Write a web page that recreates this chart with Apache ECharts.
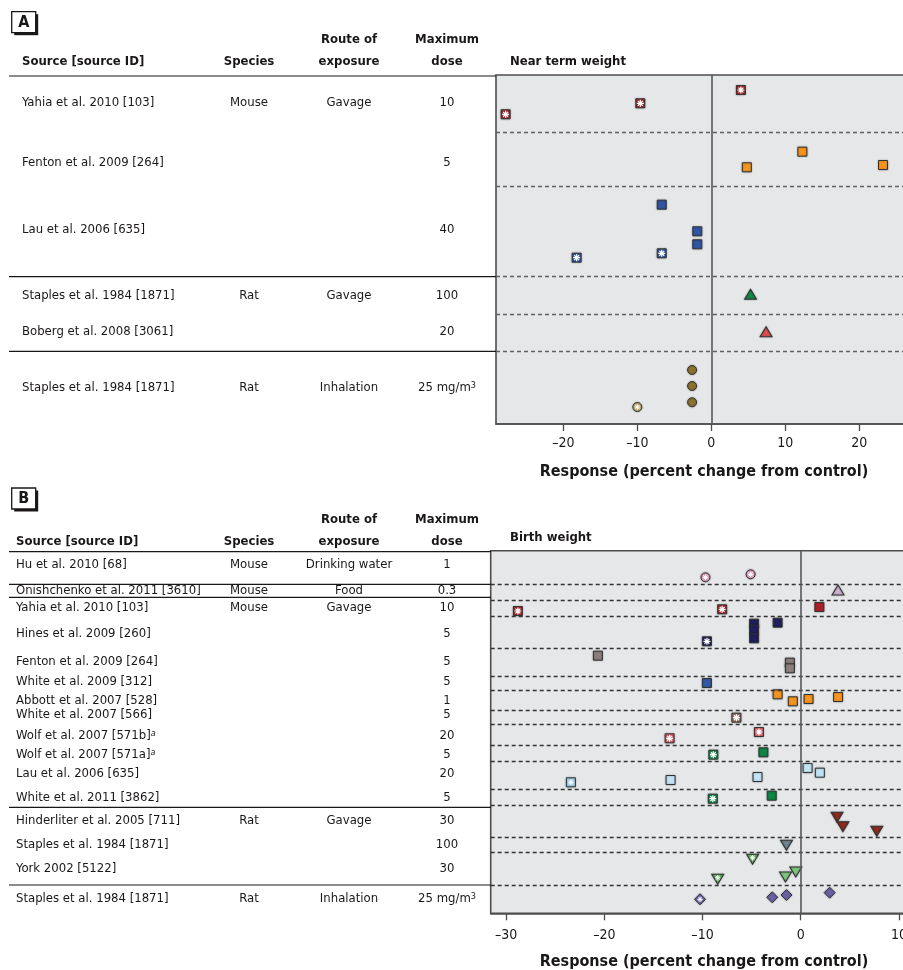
<!DOCTYPE html>
<html>
<head>
<meta charset="utf-8">
<script src="https://cdn.jsdelivr.net/npm/echarts@6/dist/echarts.min.js"></script>
<style>
html,body{margin:0;padding:0;background:#fff;}
#chart{width:903px;height:970px;}
</style>
</head>
<body>
<div id="chart"></div>
<script>
// ---------------- DATA ----------------
// Panel A: Near term weight (x = percent change, y = lane position in plot)
const aTicks = [-20, -10, 0, 10, 20];
const aRowBreaks = [5.77, 11.1, 20.17, 23.9, 27.63];
const aYahiaStar = [[4.0, 1.5], [-9.6, 2.83], [-27.8, 3.93]];
const aFenton = [[12.3, 7.67], [4.8, 9.23], [23.2, 9.0]];
const aLau = [[-6.7, 12.97], [-1.9, 15.63], [-1.9, 16.93]];
const aLauStar = [[-6.7, 17.83], [-18.2, 18.27]];
const aStaplesGav = [[5.3, 21.93]];
const aBoberg = [[7.4, 25.67]];
const aStaplesInh = [[-2.6, 29.5], [-2.6, 31.1], [-2.6, 32.73]];
const aStaplesInhStar = [[-10.0, 33.2]];

const aSources = ['Yahia et al. 2010 [103]', 'Fenton et al. 2009 [264]', 'Lau et al. 2006 [635]',
  'Staples et al. 1984 [1871]', 'Boberg et al. 2008 [3061]', 'Staples et al. 1984 [1871]'];
const aSpecies = ['Mouse', '', '', 'Rat', '', 'Rat'];
const aRoutes = ['Gavage', '', '', 'Gavage', '', 'Inhalation'];
const aDoses = ['10', '5', '40', '100', '20', '25 mg/m{sup|3}'];

// Panel B: Birth weight
const bTicks = [-30, -20, -10, 0, 10];
const bRowBreaks = [3.33, 4.93, 6.56, 9.76, 12.56, 13.93, 16.0, 17.36, 19.43, 21.06, 23.83, 25.43, 28.63, 30.16, 33.5];
const bHuStar = [[-9.7, 2.66], [-5.1, 2.36]];
const bOnish = [[3.8, 3.93]];
const bYahiaStar = [[-28.8, 6.03], [-8.0, 5.86]];
const bYahia = [[1.9, 5.63]];
const bHines = [[-4.75, 7.3], [-4.75, 7.9], [-4.75, 8.76], [-2.35, 7.2]];
const bHinesStar = [[-9.55, 9.06]];
const bFenton = [[-20.65, 10.5], [-1.1, 11.2], [-1.1, 11.76]];
const bWhite2009 = [[-9.55, 13.23]];
const bAbbott = [[-2.35, 14.36], [-0.8, 15.06], [0.8, 14.83], [3.8, 14.63]];
const bWhite2007Star = [[-6.55, 16.7]];
const bWolfBStar = [[-4.25, 18.13], [-13.35, 18.76]];
const bWolfAStar = [[-8.9, 20.4]];
const bWolfA = [[-3.8, 20.16]];
const bLau = [[0.7, 21.73], [1.95, 22.2], [-4.4, 22.63], [-13.25, 22.93]];
const bLauStar = [[-23.4, 23.16]];
const bWhite2011Star = [[-8.95, 24.8]];
const bWhite2011 = [[-2.95, 24.5]];
const bHinderliter = [[3.7, 26.66], [4.3, 27.6], [7.75, 28.06]];
const bStaplesGav = [[-1.45, 29.46]];
const bYorkStar = [[-4.9, 30.86], [-8.45, 32.86]];
const bYork = [[-1.55, 32.63], [-0.5, 32.13]];
const bStaplesInhStar = [[-10.25, 34.86]];
const bStaplesInh = [[-2.9, 34.66], [-1.45, 34.43], [2.95, 34.2]];

const bSources = ['Hu et al. 2010 [68]', 'Onishchenko et al. 2011 [3610]', 'Yahia et al. 2010 [103]',
  'Hines et al. 2009 [260]', 'Fenton et al. 2009 [264]', 'White et al. 2009 [312]', 'Abbott et al. 2007 [528]',
  'White et al. 2007 [566]', 'Wolf et al. 2007 [571b]{sup|a}', 'Wolf et al. 2007 [571a]{sup|a}',
  'Lau et al. 2006 [635]', 'White et al. 2011 [3862]', 'Hinderliter et al. 2005 [711]',
  'Staples et al. 1984 [1871]', 'York 2002 [5122]', 'Staples et al. 1984 [1871]'];
const bSpecies = ['Mouse', 'Mouse', 'Mouse', '', '', '', '', '', '', '', '', '', 'Rat', '', '', 'Rat'];
const bRoutes = ['Drinking water', 'Food', 'Gavage', '', '', '', '', '', '', '', '', '', 'Gavage', '', '', 'Inhalation'];
const bDoses = ['1', '0.3', '10', '5', '5', '5', '1', '5', '20', '5', '20', '5', '30', '100', '30', '25 mg/m{sup|3}'];

// ---------------- LAYOUT / STYLE ----------------
const FONT = '"Liberation Sans Narrow","DejaVu Sans Condensed","Arial Narrow",sans-serif';
const INK = '#1a1718';
const BODY = 13;
const HEAD = 13;
const aRowY = [103, 163, 230, 296, 332, 388];
const bRowY = [564.3, 591, 607.7, 633.3, 661.7, 681.7, 700.7, 715, 736, 755, 773.3, 797.3, 821, 844.3, 869, 899];
const COL = {species: 249, route: 349, dose: 447};
const STAR = 'path://M5,0L5,10M0,5L10,5M1.5,1.5L8.5,8.5M8.5,1.5L1.5,8.5';

const groups = [
  // panel A
  {g: 0, data: aYahiaStar, sym: 'rect', size: 9, color: '#a3262c', star: true},
  {g: 0, data: aFenton, sym: 'rect', size: 9, color: '#f7941d'},
  {g: 0, data: aLau, sym: 'rect', size: 9, color: '#2f55a4'},
  {g: 0, data: aLauStar, sym: 'rect', size: 9, color: '#2f55a4', star: true},
  {g: 0, data: aStaplesGav, sym: 'triangle', size: [12, 10], color: '#0f8a45'},
  {g: 0, data: aBoberg, sym: 'triangle', size: [12, 10], color: '#d9504f'},
  {g: 0, data: aStaplesInh, sym: 'circle', size: 9, color: '#8b7230'},
  {g: 0, data: aStaplesInhStar, sym: 'circle', size: 9, color: '#c4ae6c', star: true, small: true},
  // panel B
  {g: 1, data: bHuStar, sym: 'circle', size: 9, color: '#e49cc1', star: true, small: true},
  {g: 1, data: bOnish, sym: 'triangle', size: [12, 10], color: '#c8b4cc'},
  {g: 1, data: bYahiaStar, sym: 'rect', size: 9, color: '#a3262c', star: true},
  {g: 1, data: bYahia, sym: 'rect', size: 9, color: '#b01f2a'},
  {g: 1, data: bHines, sym: 'rect', size: 9, color: '#1f205c'},
  {g: 1, data: bHinesStar, sym: 'rect', size: 9, color: '#1f205c', star: true},
  {g: 1, data: bFenton, sym: 'rect', size: 9, color: '#8a7f7d'},
  {g: 1, data: bWhite2009, sym: 'rect', size: 9, color: '#2f5aa6'},
  {g: 1, data: bAbbott, sym: 'rect', size: 9, color: '#f7941d'},
  {g: 1, data: bWhite2007Star, sym: 'rect', size: 9, color: '#9c6f63', star: true},
  {g: 1, data: bWolfBStar, sym: 'rect', size: 9, color: '#e05a62', star: true},
  {g: 1, data: bWolfAStar, sym: 'rect', size: 9, color: '#0c8744', star: true},
  {g: 1, data: bWolfA, sym: 'rect', size: 9, color: '#0c8744'},
  {g: 1, data: bLau, sym: 'rect', size: 9, color: '#c2e4f6'},
  {g: 1, data: bLauStar, sym: 'rect', size: 9, color: '#9fd2ee', star: true, small: true},
  {g: 1, data: bWhite2011Star, sym: 'rect', size: 9, color: '#0c8744', star: true},
  {g: 1, data: bWhite2011, sym: 'rect', size: 9, color: '#0c8744'},
  {g: 1, data: bHinderliter, sym: 'triangle', size: [12, 10], color: '#8e2b1d', rot: 180},
  {g: 1, data: bStaplesGav, sym: 'triangle', size: [12, 10], color: '#6e8491', rot: 180},
  {g: 1, data: bYorkStar, sym: 'triangle', size: [12, 10], color: '#5fb65c', rot: 180, star: true, small: true},
  {g: 1, data: bYork, sym: 'triangle', size: [12, 10], color: '#7dc67a', rot: 180},
  {g: 1, data: bStaplesInhStar, sym: 'diamond', size: [11, 11], color: '#6b60a8', star: true, small: true},
  {g: 1, data: bStaplesInh, sym: 'diamond', size: [11, 11], color: '#6b60a8'}
];

const series = [];
[aRowBreaks, bRowBreaks].forEach((breaks, i) => {
  series.push({
    type: 'scatter', xAxisIndex: i, yAxisIndex: i, data: [], z: 1, silent: true,
    markLine: {
      silent: true, symbol: 'none', animation: false, label: {show: false},
      data: breaks.map(v => ({yAxis: v, lineStyle: {type: [4, 3], color: i === 0 ? '#5f6062' : '#333333', width: 1.3}}))
        .concat([{xAxis: 0, lineStyle: {type: 'solid', color: '#58595b', width: 1.6}}])
    }
  });
});
groups.forEach(gr => {
  series.push({
    type: 'scatter', xAxisIndex: gr.g, yAxisIndex: gr.g, data: gr.data, z: 3,
    symbol: gr.sym, symbolSize: gr.size, symbolRotate: gr.rot || 0,
    itemStyle: {color: gr.color, borderColor: '#333', borderWidth: 1, opacity: 1,
      shadowBlur: 2, shadowColor: 'rgba(0,0,0,0.3)'}
  });
  if (gr.star) {
    series.push({
      type: 'scatter', xAxisIndex: gr.g, yAxisIndex: gr.g, data: gr.data, z: 4,
      symbol: STAR, symbolSize: gr.small ? 5.5 : 7, symbolOffset: gr.rot ? [0, -1.5] : [0, 0],
      itemStyle: {color: 'rgba(0,0,0,0)', borderColor: '#ffffff', borderWidth: gr.small ? 1 : 1.2, opacity: 1}
    });
  }
});

// ---------------- GRAPHIC (table) ----------------
const g = [];
function txt(x, y, text, opt) {
  opt = opt || {};
  g.push({
    type: 'text', x: x, y: y, silent: true,
    style: {
      text: text, fill: INK, align: opt.align || 'left', verticalAlign: 'middle',
      font: (opt.bold ? 'bold ' : '') + (opt.size || BODY) + 'px ' + FONT,
      rich: {sup: {font: (opt.supItalic ? 'italic ' : '') + '9px ' + FONT, fill: INK, verticalAlign: 'top', lineHeight: 8}}
    }
  });
}
function hline(y, x1, x2) {
  g.push({type: 'line', silent: true, shape: {x1: x1, y1: y, x2: x2, y2: y}, style: {stroke: INK, lineWidth: 1.2}});
}
function box(x, y, letter) {
  g.push({type: 'rect', silent: true, shape: {x: x + 2.5, y: y + 2.5, width: 24, height: 21}, style: {fill: INK}});
  g.push({type: 'rect', silent: true, shape: {x: x, y: y, width: 24, height: 21}, style: {fill: '#fff', stroke: INK, lineWidth: 1.3}});
  txt(x + 12, y + 11, letter, {bold: true, size: 16, align: 'center'});
}
function header(top, srcX, titleText, titleY) {
  txt(COL.route, top, 'Route of', {bold: true, align: 'center', size: HEAD});
  txt(COL.dose, top, 'Maximum', {bold: true, align: 'center', size: HEAD});
  txt(srcX, top + 21.7, 'Source [source ID]', {bold: true, size: HEAD});
  txt(COL.species, top + 21.7, 'Species', {bold: true, align: 'center', size: HEAD});
  txt(COL.route, top + 21.7, 'exposure', {bold: true, align: 'center', size: HEAD});
  txt(COL.dose, top + 21.7, 'dose', {bold: true, align: 'center', size: HEAD});
  txt(510, titleY, titleText, {bold: true, size: HEAD});
}
box(11.7, 11.7, 'A');
header(40, 22, 'Near term weight', 61.7);
hline(76, 9, 496);
hline(276.7, 9, 496);
hline(351.3, 9, 496);
aRowY.forEach((y, i) => {
  txt(22, y, aSources[i]);
  if (aSpecies[i]) txt(COL.species, y, aSpecies[i], {align: 'center'});
  if (aRoutes[i]) txt(COL.route, y, aRoutes[i], {align: 'center'});
  txt(COL.dose, y, aDoses[i], {align: 'center'});
});
box(11.7, 488, 'B');
header(520, 16, 'Birth weight', 537.3);
hline(551.7, 9, 491);
hline(584.3, 9, 491);
hline(597.3, 9, 491);
hline(807.3, 9, 491);
hline(885, 9, 491);
bRowY.forEach((y, i) => {
  txt(16, y, bSources[i], {supItalic: true});
  if (bSpecies[i]) txt(COL.species, y, bSpecies[i], {align: 'center'});
  if (bRoutes[i]) txt(COL.route, y, bRoutes[i], {align: 'center'});
  txt(COL.dose, y, bDoses[i], {align: 'center'});
});
txt(704, 471.7, 'Response (percent change from control)', {bold: true, size: 16, align: 'center'});
txt(704, 961.7, 'Response (percent change from control)', {bold: true, size: 16, align: 'center'});

// ---------------- CHART ----------------
const dash = v => String(v).replace('-', '\u2013');
function xAxis(i, min, max, ticks, margin) {
  return {
    type: 'value', gridIndex: i, min: min, max: max, splitLine: {show: false},
    axisLine: {show: true, onZero: false, lineStyle: {color: '#4d4d4f', width: 1.6}},
    axisTick: {show: true, length: 7, customValues: ticks, lineStyle: {color: '#4d4d4f', width: 1.3}},
    axisLabel: {customValues: ticks, formatter: dash, color: INK, fontFamily: FONT, fontSize: 14, margin: margin}
  };
}
function yAxis(i, max) {
  return {type: 'value', gridIndex: i, min: 0, max: max, inverse: true, show: false, splitLine: {show: false}};
}
const chart = echarts.init(document.getElementById('chart'), null, {renderer: 'canvas'});
chart.setOption({
  animation: false,
  backgroundColor: '#ffffff',
  grid: [
    {left: 496, top: 75, width: 420.3, height: 349, show: true, backgroundColor: '#e6e7e8',
      borderColor: '#4d4d4f', borderWidth: 1.6, containLabel: false, outerBoundsMode: 'none'},
    {left: 490.7, top: 550.7, width: 425.3, height: 362.6, show: true, backgroundColor: '#e6e7e8',
      borderColor: '#4d4d4f', borderWidth: 1.6, containLabel: false, outerBoundsMode: 'none'}
  ],
  xAxis: [xAxis(0, -29.1, 27.7, aTicks, 12), xAxis(1, -31.57, 11.74, bTicks, 15)],
  yAxis: [yAxis(0, 34.9), yAxis(1, 36.26)],
  series: series,
  graphic: g
});
</script>
</body>
</html>
